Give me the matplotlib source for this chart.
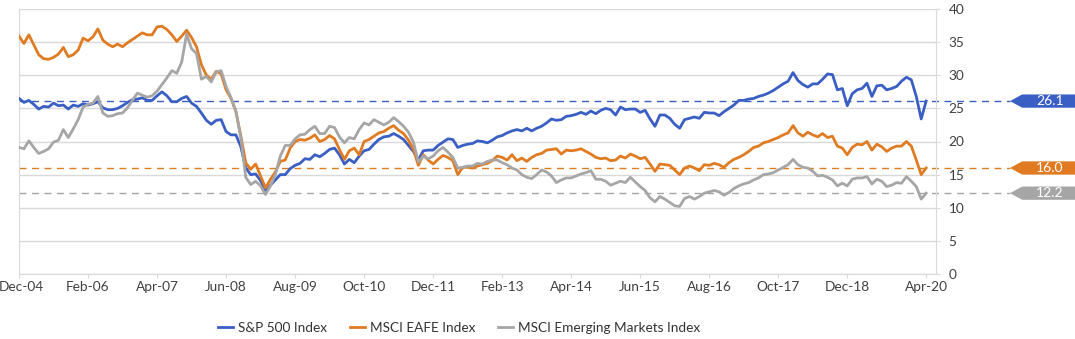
import matplotlib.pyplot as plt
from matplotlib.patches import Polygon
from matplotlib.transforms import ScaledTranslation
import numpy as np

plt.rcParams['font.family'] = ['Lato', 'DejaVu Sans']

# monthly forward P/E, Dec-04 .. Apr-20
sp500 = [
    26.5, 25.9, 26.2, 25.6, 24.9, 25.3, 25.2, 25.8, 25.4, 25.5, 24.9, 25.5, 25.3,
    25.7, 25.5, 25.7, 26.0, 25.1, 24.8, 24.8, 25.0, 25.4, 25.9, 26.3, 26.4,
    26.6, 26.2, 26.2, 26.9, 27.5, 26.9, 26.0, 26.0, 26.5, 26.8, 25.8, 25.3,
    24.3, 23.2, 22.6, 23.2, 23.3, 21.5, 21.0, 21.0, 19.2, 16.0, 15.0, 15.1,
    14.1, 12.6, 13.4, 14.2, 15.0, 15.0, 15.9, 16.4, 16.7, 17.4, 17.3, 18.0,
    17.7, 18.2, 18.8, 19.0, 18.0, 16.6, 17.3, 16.8, 17.8, 18.6, 18.8, 19.6,
    20.3, 20.7, 20.8, 21.2, 20.8, 20.3, 19.4, 18.5, 17.2, 18.6, 18.7, 18.7,
    19.4, 19.9, 20.4, 20.3, 19.1, 19.4, 19.6, 19.7, 20.1, 20.0, 19.8, 20.2,
    20.7, 20.9, 21.3, 21.6, 21.8, 21.6, 22.0, 21.6, 22.0, 22.3, 22.8, 23.4,
    23.2, 23.3, 23.8, 23.9, 24.1, 24.4, 24.1, 24.6, 24.2, 24.7, 25.0, 24.8,
    24.0, 25.2, 24.8, 24.9, 24.9, 24.4, 24.7, 23.4, 22.3, 24.0, 24.0, 23.5,
    22.6, 22.0, 23.3, 23.5, 23.7, 23.5, 24.4, 24.3, 24.3, 23.9, 24.5, 25.0,
    25.5, 26.2, 26.2, 26.4, 26.5, 26.8, 27.0, 27.3, 27.7, 28.2, 28.7, 29.1,
    30.4, 29.2, 28.6, 28.2, 28.7, 28.7, 29.4, 30.2, 30.1, 27.8, 28.0, 25.4,
    27.2, 27.8, 28.0, 28.8, 26.8, 28.4, 28.5, 27.8, 28.0, 28.3, 29.1, 29.7,
    29.3, 26.8, 23.4, 26.1,
]
eafe = [
    35.9, 34.8, 36.1, 34.6, 33.1, 32.5, 32.4, 32.7, 33.2, 34.2, 32.8, 33.1, 33.8,
    35.6, 35.2, 35.8, 37.0, 35.3, 34.7, 34.3, 34.7, 34.3, 34.9, 35.4, 35.9,
    36.4, 36.1, 36.1, 37.3, 37.4, 36.9, 36.1, 35.1, 35.9, 36.8, 35.7, 34.3,
    31.6, 30.0, 29.4, 30.6, 30.2, 27.8, 26.5, 24.5, 20.8, 16.8, 15.8, 16.6,
    14.8, 13.0, 14.3, 15.4, 17.0, 17.2, 19.0, 20.0, 20.3, 20.2, 20.5, 21.0,
    20.0, 20.3, 20.9, 20.4, 18.8, 17.3, 18.6, 19.0, 18.0, 20.0, 20.3, 20.8,
    21.3, 21.5, 22.0, 22.4, 21.7, 21.2, 20.2, 18.8, 16.4, 18.0, 17.2, 16.6,
    17.3, 17.9, 17.6, 17.1, 15.0, 16.1, 16.1, 16.0, 16.3, 16.5, 16.7, 17.1,
    17.8, 17.6, 17.2, 18.0, 17.1, 17.5, 17.0, 17.6, 18.0, 18.2, 18.7, 18.8,
    18.9, 18.1, 18.7, 18.6, 18.7, 18.9, 18.5, 18.1, 17.6, 17.4, 17.5, 17.1,
    17.2, 17.8, 17.5, 18.1, 17.8, 17.4, 17.6, 16.6, 15.5, 16.6, 16.5, 16.4,
    15.7, 15.0, 16.0, 16.3, 16.0, 15.6, 16.5, 16.4, 16.7, 16.5, 16.1, 16.8,
    17.3, 17.6, 18.0, 18.5, 19.1, 19.3, 19.8, 20.0, 20.3, 20.6, 21.0, 21.3,
    22.4, 21.3, 20.8, 21.4, 21.0, 20.7, 21.2, 20.6, 20.8, 19.3, 19.0, 18.0,
    19.1, 19.6, 19.5, 20.0, 18.7, 19.6, 19.2, 18.5, 19.0, 19.3, 19.3, 20.0,
    19.3, 17.2, 15.0, 16.0,
]
em = [
    19.1, 18.9, 20.1, 19.1, 18.2, 18.5, 18.9, 19.9, 20.2, 21.8, 20.6, 21.9, 23.3,
    25.2, 25.6, 25.8, 26.8, 24.3, 23.8, 23.9, 24.2, 24.3, 25.1, 26.2, 27.3,
    27.0, 26.7, 26.9, 27.6, 28.6, 29.6, 30.7, 30.3, 32.0, 36.2, 34.0, 33.3,
    29.4, 29.8, 29.0, 30.5, 30.7, 28.3, 26.6, 24.6, 20.5, 14.6, 13.5, 14.0,
    13.3, 12.0, 13.3, 15.0, 17.8, 19.4, 19.4, 20.4, 21.0, 21.1, 21.8, 22.3,
    21.2, 21.2, 22.3, 22.1, 20.7, 19.8, 20.6, 20.4, 21.8, 22.8, 22.5, 23.3,
    22.9, 22.5, 22.9, 23.6, 23.0, 22.3, 21.4, 19.9, 16.9, 17.8, 17.4, 17.8,
    18.6, 19.1, 18.4, 17.6, 16.0, 16.1, 16.3, 16.3, 16.7, 16.6, 17.0, 17.2,
    17.2, 16.8, 16.5, 16.0, 15.7, 15.0, 14.6, 14.4, 15.0, 15.7, 15.4, 14.8,
    13.8, 14.2, 14.5, 14.5, 14.8, 15.1, 15.3, 15.6, 14.3, 14.3, 14.0, 13.4,
    13.7, 14.0, 13.8, 14.6, 13.9, 13.2, 12.6, 11.5, 10.9, 11.7, 11.3, 10.8,
    10.3, 10.2, 11.4, 11.7, 11.3, 11.7, 12.2, 12.4, 12.6, 12.4, 11.9, 12.3,
    12.9, 13.3, 13.6, 13.8, 14.2, 14.5, 15.0, 15.1, 15.3, 15.7, 16.1, 16.5,
    17.3, 16.5, 16.1, 16.0, 15.5, 14.8, 14.9, 14.6, 14.2, 13.3, 13.7, 13.3,
    14.3, 14.5, 14.5, 14.7, 13.6, 14.3, 14.0, 13.2, 13.4, 13.8, 13.7, 14.7,
    14.0, 13.2, 11.3, 12.2,
]

tick_months = [0, 14, 28, 42, 56, 70, 84, 98, 112, 126, 140, 154, 168, 184]
tick_labels = ['Dec-04', 'Feb-06', 'Apr-07', 'Jun-08', 'Aug-09', 'Oct-10', 'Dec-11',
               'Feb-13', 'Apr-14', 'Jun-15', 'Aug-16', 'Oct-17', 'Dec-18', 'Apr-20']

BLUE = '#3a5fc4'
ORANGE = '#e07b22'
GRAY = '#a6a6a6'
GRID = '#d9d9d9'
TEXT = '#404040'

fig = plt.figure(figsize=(10.75, 3.39), dpi=100)
ax = fig.add_axes([19 / 1075, 1 - 274 / 339, 917 / 1075, 265 / 339])

x = np.arange(len(sp500))
series = [
    (sp500, BLUE, 'S&P 500 Index'),
    (eafe, ORANGE, 'MSCI EAFE Index'),
    (em, GRAY, 'MSCI Emerging Markets Index'),
]
for vals, col, name in series:
    ax.plot(x, vals, color=col, lw=2.0, label=name, zorder=3, solid_joinstyle='round')

ax.set_xlim(0, 186)
ax.set_ylim(0, 40)

ax.yaxis.tick_right()
ax.set_yticks(range(0, 41, 5))
ax.grid(axis='y', color=GRID, lw=1)
ax.set_axisbelow(True)
ax.spines['top'].set_visible(False)
for side in ['left', 'right', 'bottom']:
    ax.spines[side].set_color(GRID)
ax.tick_params(axis='y', length=3, color=GRID, labelcolor=TEXT,
               labelsize=9.8, pad=6)
ax.set_xticks(tick_months)
ax.set_xticklabels(tick_labels)
ax.tick_params(axis='x', length=3, color=GRID, labelcolor=TEXT,
               labelsize=9.8, pad=2)

# keep the first date label inside the canvas
first = ax.get_xticklabels()[0]
first.set_transform(first.get_transform() + ScaledTranslation(2 / 72, 0, fig.dpi_scale_trans))

# latest-value lines with arrow tags on the right
trans = ax.get_yaxis_transform()
tip, body, end = 1.0807, 1.094, 1.16
half = 1.0
for vals, col, name in series:
    last = vals[-1]
    ax.plot([0, tip], [last, last], transform=trans, color=col, lw=1,
            ls=(0, (5, 4)), clip_on=False, zorder=2)
    pts = [(tip, last), (body, last + half), (end, last + half),
           (end, last - half), (body, last - half)]
    ax.add_patch(Polygon(pts, closed=True, transform=trans, facecolor=col,
                         edgecolor='none', clip_on=False, zorder=4))
    ax.text(1.124, last, f'{last:.1f}', transform=trans, color='white',
            ha='center', va='center', fontsize=10, zorder=5)

fig.legend(loc='center', bbox_to_anchor=(459 / 1075, 1 - 328 / 339), ncol=3,
           frameon=False, prop={'size': 9.8},
           handlelength=1.1, handletextpad=0.35, columnspacing=1.7,
           labelcolor='#333333')

fig.savefig('out.png', dpi=100)
